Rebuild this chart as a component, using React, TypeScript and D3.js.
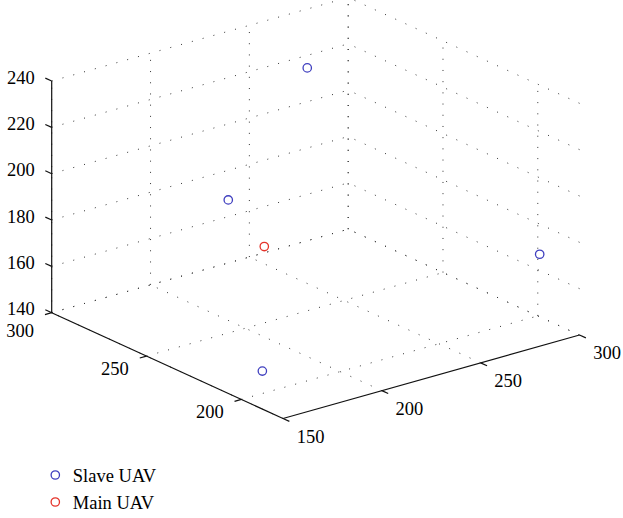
import React from 'react';
import * as d3 from 'd3';

// axis limits and ticks
const xDomain = [150, 300];
const yDomain = [178, 300];
const zDomain = [140, 240];
const xTicks = [150, 200, 250, 300];
const yTicks = [200, 250, 300];
const zTicks = [140, 160, 180, 200, 220, 240];

// UAV positions
const slaveX = [239, 200, 300, 176];
const slaveY = [258, 259, 199, 216];
const slaveZ = [240, 192, 167, 140];
const mainX = [200];
const mainY = [240];
const mainZ = [179];

const legendLabels = ['Slave UAV', 'Main UAV'];
const colors = ['#3f3fbf', '#e5332a'];

const W = 623;
const H = 518;
const FONT = '"Liberation Serif", "Times New Roman", serif';

// screen placement of the box (front-bottom corner + edge vectors)
const origin = [283, 418.5];
const EX = [296.5, -83.5];
const EY = [-231.3, -105.8];
const EZ = [0, -231.7];

const xs = d3.scaleLinear().domain(xDomain).range([0, 1]);
const ys = d3.scaleLinear().domain(yDomain).range([0, 1]);
const zs = d3.scaleLinear().domain(zDomain).range([0, 1]);

function proj(x: number, y: number, z: number): [number, number] {
  const a = xs(x), b = ys(y), c = zs(z);
  return [
    origin[0] + a * EX[0] + b * EY[0] + c * EZ[0],
    origin[1] + a * EX[1] + b * EY[1] + c * EZ[1],
  ];
}

function unit(v: number[], s: number): [number, number] {
  const l = Math.hypot(v[0], v[1]);
  return [(v[0] / l) * s, (v[1] / l) * s];
}

type P3 = [number, number, number];

export default function App() {
  const [x0, x1] = xDomain;
  const [y0, y1] = yDomain;
  const [z0, z1] = zDomain;

  const line = d3.line<P3>()
    .x(d => proj(d[0], d[1], d[2])[0])
    .y(d => proj(d[0], d[1], d[2])[1]);

  const grid: P3[][] = [];
  // floor
  xTicks.forEach(x => grid.push([[x, y0, z0], [x, y1, z0]]));
  yTicks.forEach(y => grid.push([[x0, y, z0], [x1, y, z0]]));
  // back-left wall (y = max)
  xTicks.forEach(x => grid.push([[x, y1, z0], [x, y1, z1]]));
  zTicks.forEach(z => grid.push([[x0, y1, z], [x1, y1, z]]));
  // back-right wall (x = max)
  yTicks.forEach(y => grid.push([[x1, y, z0], [x1, y, z1]]));
  zTicks.forEach(z => grid.push([[x1, y0, z], [x1, y1, z]]));

  const axes: P3[][] = [
    [[x0, y0, z0], [x1, y0, z0]],
    [[x0, y0, z0], [x0, y1, z0]],
    [[x0, y1, z0], [x0, y1, z1]],
  ];

  const tx = unit([-EY[0], -EY[1]], 7);
  const ty = unit([-EX[0], -EX[1]], 7);
  const tz = unit(EY, 7);

  const slaves = slaveX.map((x, i) => proj(x, slaveY[i], slaveZ[i]));
  const mains = mainX.map((x, i) => proj(x, mainY[i], mainZ[i]));

  return (
    <svg width={W} height={H} style={{ position: 'absolute', left: 0, top: 0, background: '#fff' }}
      fontFamily={FONT} fontSize={18.5}>
      <g fill="none" stroke="#333" strokeWidth={1} strokeDasharray="1 10.2">
        {grid.map((s, i) => <path key={i} d={line(s) || ''} />)}
      </g>
      <g fill="none" stroke="#111" strokeWidth={1.2}>
        {axes.map((s, i) => <path key={i} d={line(s) || ''} />)}
        {xTicks.map(v => {
          const p = proj(v, y0, z0);
          return <line key={'xt' + v} x1={p[0]} y1={p[1]} x2={p[0] + tx[0]} y2={p[1] + tx[1]} />;
        })}
        {yTicks.map(v => {
          const p = proj(x0, v, z0);
          return <line key={'yt' + v} x1={p[0]} y1={p[1]} x2={p[0] + ty[0]} y2={p[1] + ty[1]} />;
        })}
        {zTicks.map(v => {
          const p = proj(x0, y1, v);
          return <line key={'zt' + v} x1={p[0]} y1={p[1]} x2={p[0] + tz[0]} y2={p[1] + tz[1]} />;
        })}
      </g>
      <g fill="#000">
        {xTicks.map(v => {
          const p = proj(v, y0, z0);
          return <text key={'xl' + v} x={p[0] + 27.5} y={p[1] + 24} textAnchor="middle">{v}</text>;
        })}
        {yTicks.map(v => {
          const p = proj(x0, v, z0);
          // the corner label sits a little lower, clear of the z labels
          return <text key={'yl' + v} x={p[0] - 31.5} y={p[1] + (v === y1 ? 24 : 19)} textAnchor="middle">{v}</text>;
        })}
        {zTicks.map(v => {
          const p = proj(x0, y1, v);
          return <text key={'zl' + v} x={p[0] - 17} y={p[1] + 2.5} textAnchor="end">{v}</text>;
        })}
      </g>
      <g fill="none" strokeWidth={1.3}>
        {slaves.map((p, i) => <circle key={'s' + i} cx={p[0]} cy={p[1]} r={4.2} stroke={colors[0]} />)}
        {mains.map((p, i) => <circle key={'m' + i} cx={p[0]} cy={p[1]} r={4.2} stroke={colors[1]} />)}
      </g>
      <g>
        {legendLabels.map((t, i) => (
          <g key={t} transform={`translate(55.3, ${475 + i * 27})`}>
            <circle r={4.2} fill="none" stroke={colors[i]} strokeWidth={1.3} />
            <text x={17.5} y={6.7} fill="#000">{t}</text>
          </g>
        ))}
      </g>
    </svg>
  );
}
